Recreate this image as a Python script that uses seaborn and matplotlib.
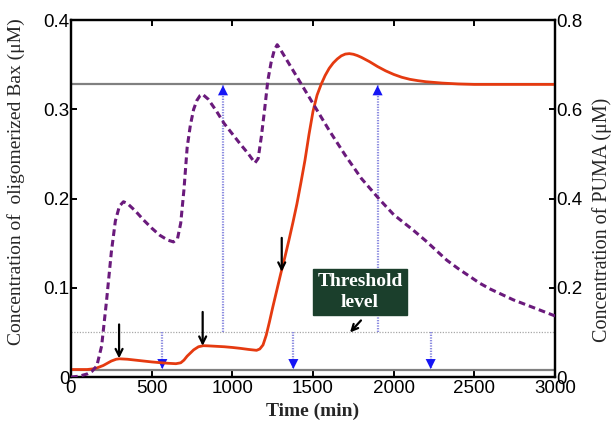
import numpy as np
import pandas as pd
import matplotlib
matplotlib.use("Agg")
import matplotlib.pyplot as plt
import seaborn as sns

# ---- data -------------------------------------------------------------
# Oligomerized Bax (left axis, uM)
bax_time = [0, 100, 150, 200, 250, 280, 300, 350, 400, 450, 500, 550, 600,
            650, 680, 700, 720, 760, 790, 820, 850, 900, 950, 1000, 1050,
            1100, 1150, 1170, 1190, 1210, 1230, 1250, 1275, 1300, 1325, 1350,
            1375, 1400, 1425, 1450, 1475, 1500, 1525, 1550, 1575, 1600, 1625,
            1650, 1675, 1700, 1725, 1750, 1775, 1800, 1850, 1900, 1950, 2000,
            2050, 2100, 2150, 2200, 2300, 2400, 2500, 2600, 3000]
bax_conc = [0.0085, 0.0085, 0.0095, 0.0130, 0.0180, 0.0200, 0.0205, 0.0200,
            0.0190, 0.0180, 0.0170, 0.0162, 0.0155, 0.0150, 0.0160, 0.0190,
            0.0235, 0.0305, 0.0340, 0.0352, 0.0350, 0.0345, 0.0340, 0.0332,
            0.0322, 0.0310, 0.0300, 0.0315, 0.0360, 0.0470, 0.0620, 0.0780,
            0.0970, 0.1160, 0.1340, 0.1530, 0.1730, 0.1940, 0.2180, 0.2430,
            0.2720, 0.2980, 0.3160, 0.3280, 0.3380, 0.3460, 0.3520, 0.3565,
            0.3600, 0.3620, 0.3625, 0.3618, 0.3603, 0.3583, 0.3535, 0.3480,
            0.3432, 0.3392, 0.3360, 0.3337, 0.3322, 0.3310, 0.3295, 0.3285,
            0.3280, 0.3280, 0.3280]

# PUMA (right axis, uM)
puma_time = [0, 50, 100, 130, 160, 190, 220, 250, 275, 300, 325, 350, 400,
             450, 500, 550, 600, 635, 660, 680, 700, 720, 740, 760, 780, 800,
             815, 850, 900, 950, 1000, 1050, 1100, 1140, 1160, 1180, 1200,
             1220, 1240, 1260, 1278, 1300, 1400, 1500, 1600, 1700, 1800, 1915,
             2000, 2122, 2200, 2329, 2400, 2535, 2600, 2742, 2800, 3000]
puma_conc = [0.0, 0.002, 0.007, 0.013, 0.025, 0.07, 0.17, 0.28, 0.35, 0.383,
             0.393, 0.389, 0.372, 0.352, 0.334, 0.318, 0.307, 0.303, 0.31,
             0.345, 0.42, 0.515, 0.565, 0.600, 0.620, 0.631, 0.634, 0.623,
             0.597, 0.568, 0.545, 0.522, 0.500, 0.480, 0.49, 0.54, 0.60,
             0.665, 0.705, 0.733, 0.745, 0.733, 0.673, 0.613, 0.553, 0.497,
             0.445, 0.397, 0.364, 0.329, 0.305, 0.262, 0.243, 0.210, 0.197,
             0.173, 0.165, 0.137]

# reference levels (left axis, uM)
bax_steady = 0.328
bax_basal = 0.0085
threshold = 0.05

# pulses marked on the Bax curve (time, arrow tip)
pulse_time = [298, 816, 1306]
pulse_tip = [0.021, 0.035, 0.118]

# threshold crossings: up arrows reach the steady level, down arrows the basal one
cross_time = [566, 942, 1378, 1900, 2229]
cross_dir = ["down", "up", "down", "up", "down"]

x_ticks = [0, 500, 1000, 1500, 2000, 2500, 3000]
bax_ticks = [0, 0.1, 0.2, 0.3, 0.4]
puma_ticks = [0, 0.2, 0.4, 0.6, 0.8]
bax_tick_labels = ["0", "0.1", "0.2", "0.3", "0.4"]
puma_tick_labels = ["0", "0.2", "0.4", "0.6", "0.8"]

# ---- styling ----------------------------------------------------------
sns.set_style("white")
plt.rcParams["font.family"] = ["Liberation Sans", "DejaVu Sans"]
serif = ["Liberation Serif", "DejaVu Serif"]

RED = "#e53a10"
PURPLE = "#6a1a7c"
GRAY = "#808080"
BLUE_LINE = "#8c8ce0"
BLUE_HEAD = "#1515f5"
BOX = "#1b3f2c"

fig = plt.figure(figsize=(6.12, 4.29), dpi=100)
ax = fig.add_axes([0.116, 0.121, 0.907 - 0.116, 0.953 - 0.121])
ax2 = ax.twinx()

# reference lines
ax.axhline(bax_steady, color=GRAY, lw=1.6, zorder=1)
ax.axhline(bax_basal, color=GRAY, lw=1.6, zorder=1)
ax.axhline(threshold, color="#a8a8a8", lw=0.9, ls=(0, (1, 1.2)), zorder=1)

# threshold crossing arrows (dotted shaft + solid head)
for t, d in zip(cross_time, cross_dir):
    tip = bax_steady - 0.001 if d == "up" else bax_basal + 0.0005
    ax.vlines(t, threshold, tip, colors=BLUE_LINE, lw=1.6,
              linestyles=(0, (0.6, 0.6)), zorder=2)
    back = tip - 0.02 if d == "up" else tip + 0.02
    ax.annotate("", xy=(t, tip), xytext=(t, back),
                arrowprops=dict(arrowstyle="-|>,head_length=0.6,head_width=0.3",
                                color=BLUE_HEAD, lw=0.01, shrinkA=0, shrinkB=0,
                                mutation_scale=12),
                zorder=3)

# curves
sns.lineplot(x=bax_time, y=bax_conc, ax=ax, color=RED, lw=2.0, zorder=4,
             estimator=None, sort=False)
sns.lineplot(x=puma_time, y=puma_conc, ax=ax2, color=PURPLE, lw=2.2,
             zorder=4, estimator=None, sort=False)
ax2.lines[-1].set_linestyle((0, (2.2, 1.3)))

# pulse arrows
for t, tip in zip(pulse_time, pulse_tip):
    ax.annotate("", xy=(t, tip), xytext=(t, tip + 0.038),
                arrowprops=dict(arrowstyle="->,head_length=0.5,head_width=0.25",
                                color="black", lw=1.6, shrinkA=0, shrinkB=0),
                zorder=5)

# threshold label
ax.text(1791, 0.0952, "Threshold\nlevel", ha="center", va="center",
        color="white", fontsize=14, fontweight="bold", family=serif,
        linespacing=1.3, zorder=6,
        bbox=dict(boxstyle="square,pad=0.22", fc=BOX, ec=BOX))
ax.annotate("", xy=(1729, threshold), xytext=(1797, 0.0635),
            arrowprops=dict(arrowstyle="->,head_length=0.45,head_width=0.22",
                            color="black", lw=1.6, shrinkA=0, shrinkB=0),
            zorder=6)

# axes
ax.set_xlim(0, 3000)
ax.set_ylim(0, 0.4)
ax2.set_ylim(0, 0.8)
ax.set_xticks(x_ticks)
ax.set_xticklabels([str(v) for v in x_ticks])
ax.set_yticks(bax_ticks)
ax.set_yticklabels(bax_tick_labels)
ax2.set_yticks(puma_ticks)
ax2.set_yticklabels(puma_tick_labels)

for a in (ax, ax2):
    for s in a.spines.values():
        s.set_linewidth(1.6)
        s.set_color("black")
        s.set_visible(True)

ax.tick_params(axis="x", which="both", direction="in", top=True, bottom=True,
               length=4, width=1.4, labelsize=13.5, pad=2, colors="black")
ax.tick_params(axis="y", direction="in", left=True, right=False, length=4,
               width=1.4, labelsize=13.5, pad=1, colors="black")
ax2.tick_params(axis="y", direction="in", right=True, left=False, length=4,
                width=1.4, labelsize=13.5, pad=1, colors="black")

ax.set_xlabel("Time (min)", family=serif, fontsize=14, fontweight="bold",
              labelpad=4)
ax.set_ylabel("Concentration of  oligomerized Bax (\u03bcM)", family=serif,
              fontsize=14)
ax.yaxis.set_label_coords(-0.095, 0.548)
ax2.set_ylabel("Concentration of PUMA (\u03bcM)", family=serif, fontsize=14.5)
ax2.yaxis.set_label_coords(1.076, 0.44)

fig.savefig("out.png", dpi=100)
